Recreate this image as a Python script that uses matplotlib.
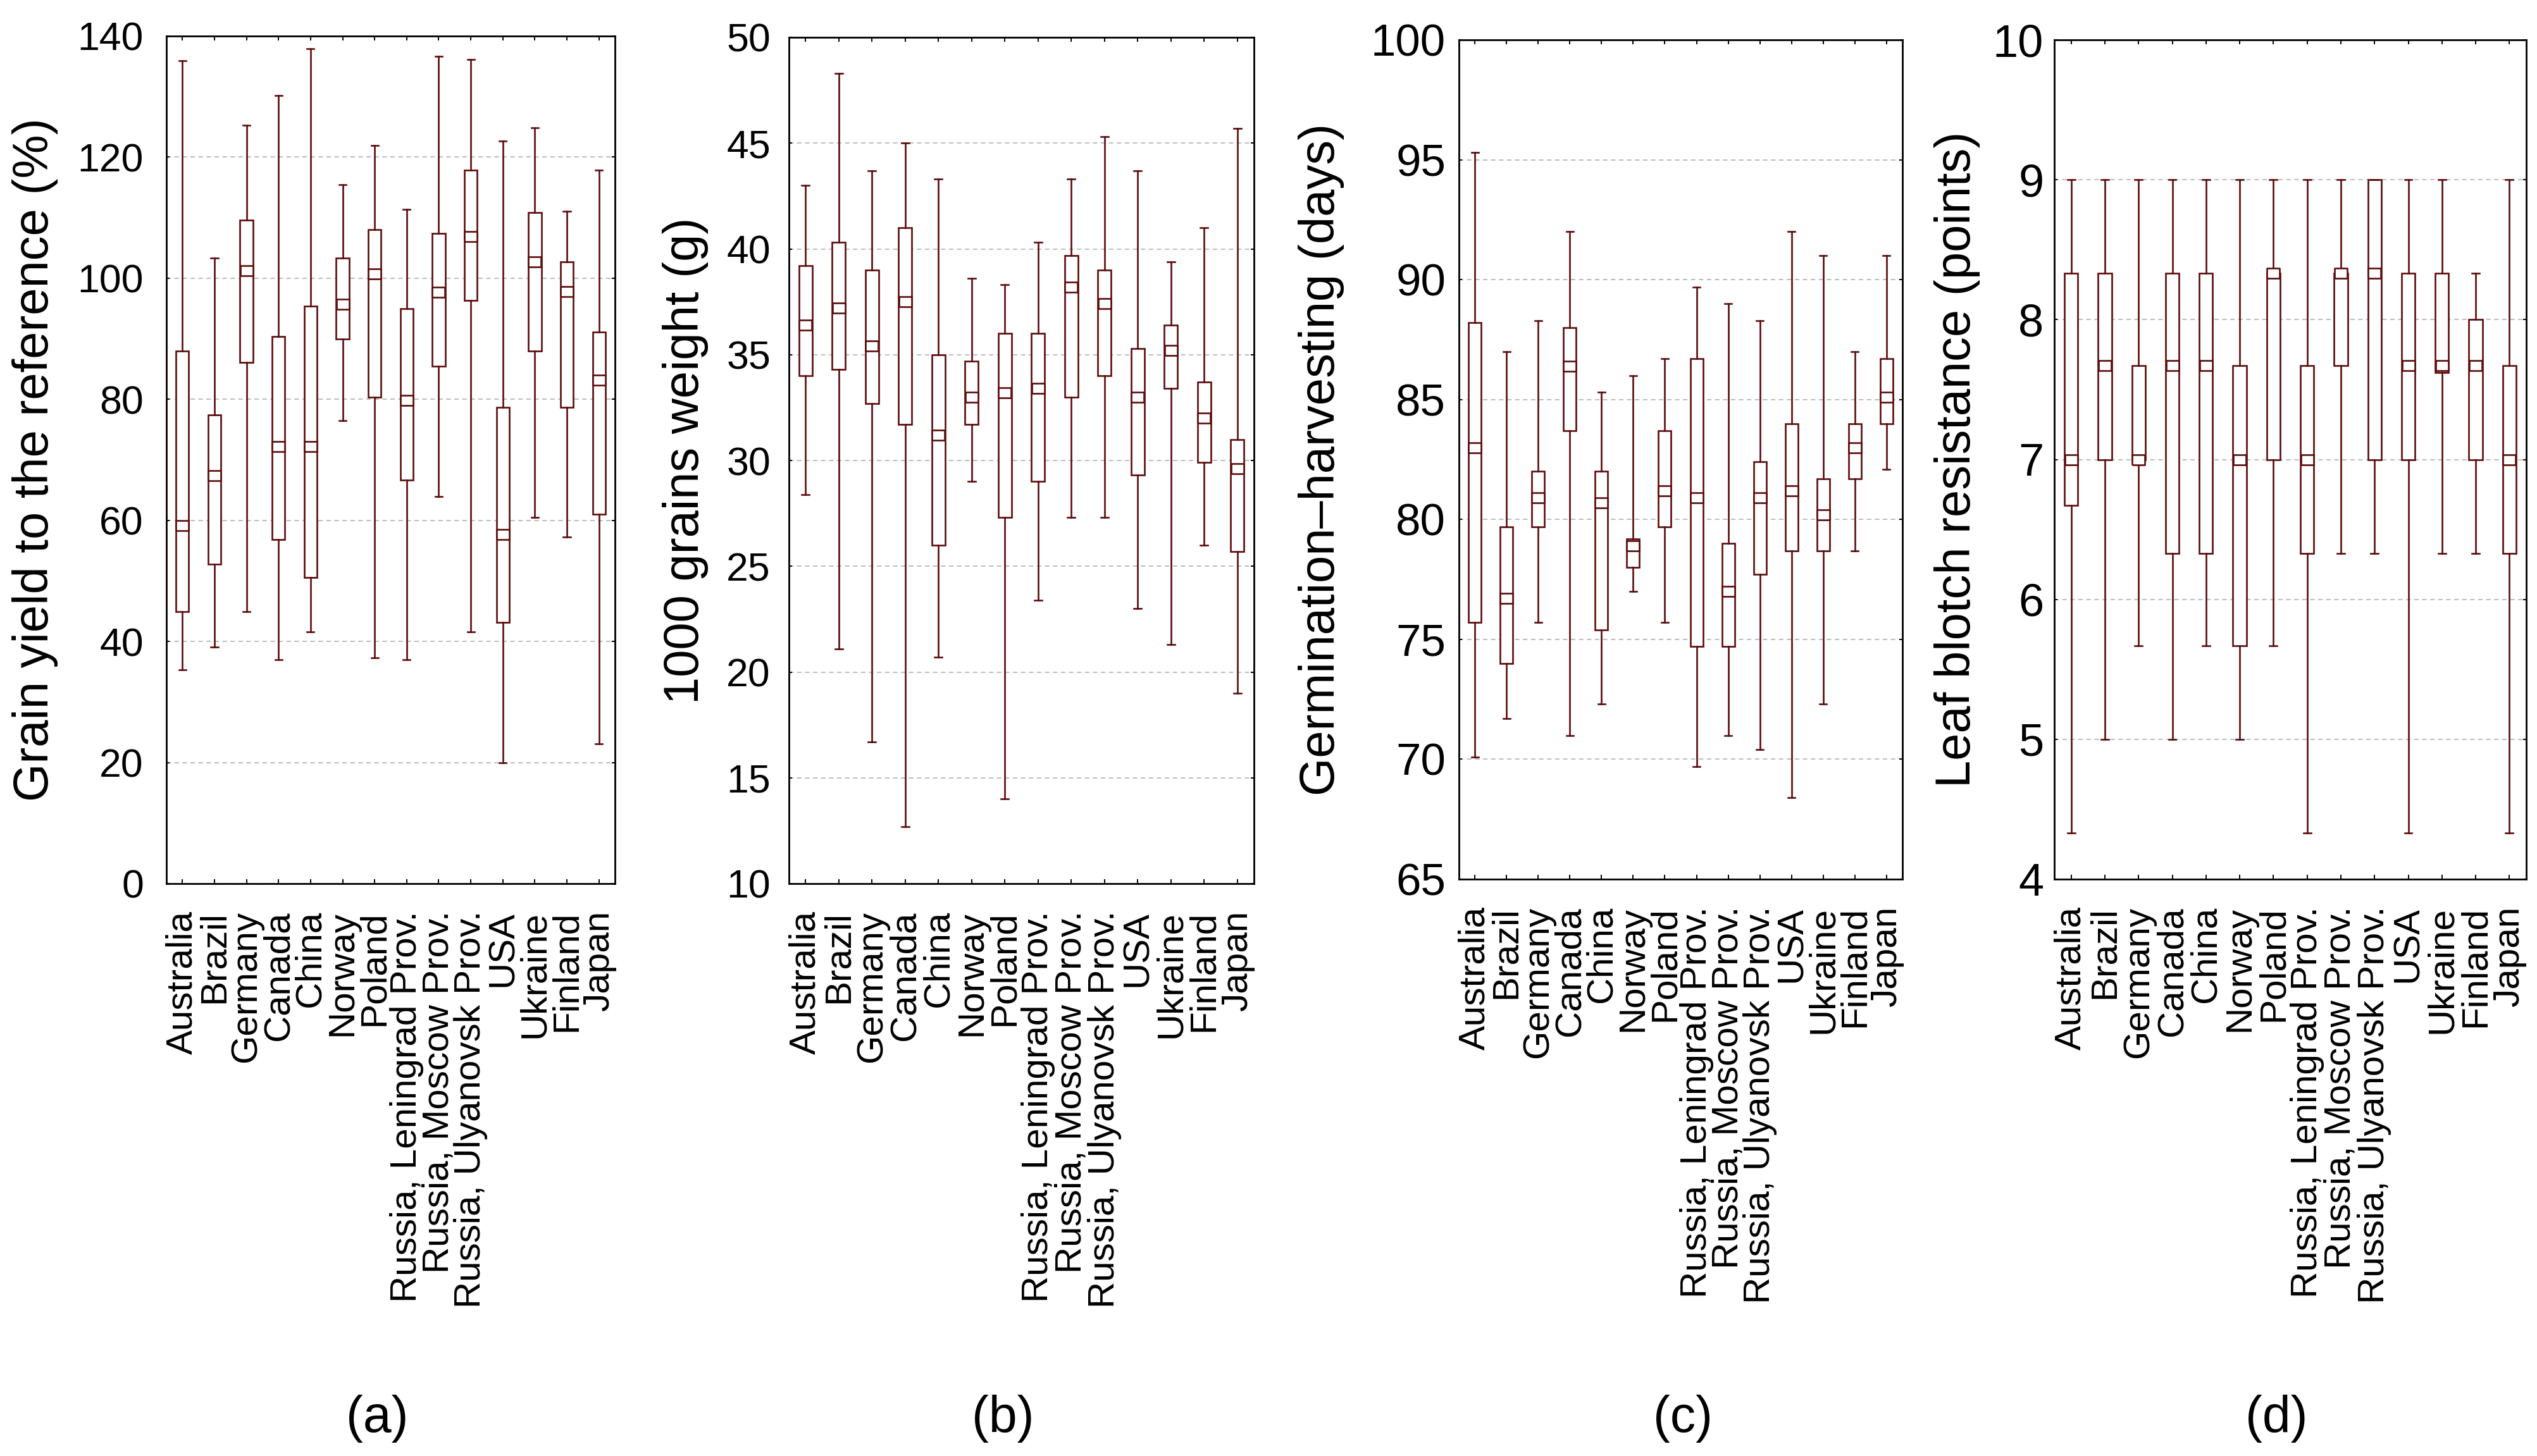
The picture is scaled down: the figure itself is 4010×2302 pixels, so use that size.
import matplotlib
matplotlib.use('Agg')
import matplotlib.pyplot as plt
import numpy as np

plt.rcParams['font.family'] = ['Liberation Sans', 'DejaVu Sans']

categories = ['Australia', 'Brazil', 'Germany', 'Canada', 'China', 'Norway', 'Poland',
              'Russia, Leningrad Prov.', 'Russia, Moscow Prov.', 'Russia, Ulyanovsk Prov.',
              'USA', 'Ukraine', 'Finland', 'Japan']

# (a) Grain yield to the reference (%)
a_hi = [135.9, 103.3, 125.3, 130.2, 137.9, 115.5, 121.9, 111.4, 136.7, 136.1, 122.7, 124.9, 111.1, 117.9]
a_q3 = [88.0, 77.4, 109.6, 90.4, 95.4, 103.3, 108.0, 95.0, 107.4, 117.9, 78.7, 110.8, 102.7, 91.1]
a_med = [59.1, 67.4, 101.2, 72.2, 72.2, 95.7, 100.7, 79.8, 97.7, 106.9, 57.7, 102.7, 97.8, 83.2]
a_q1 = [44.9, 52.8, 86.1, 56.8, 50.6, 90.0, 80.3, 66.7, 85.5, 96.3, 43.2, 88.0, 78.7, 61.0]
a_lo = [35.3, 39.1, 44.9, 37.0, 41.6, 76.5, 37.3, 37.0, 63.9, 41.6, 20.0, 60.5, 57.3, 23.1]

# (b) 1000 grains weight (g)
b_hi = [43.0, 48.3, 43.7, 45.0, 43.3, 38.6, 38.3, 40.3, 43.3, 45.3, 43.7, 39.4, 41.0, 45.7]
b_q3 = [39.2, 40.3, 39.0, 41.0, 35.0, 34.7, 36.0, 36.0, 39.7, 39.0, 35.3, 36.4, 33.7, 31.0]
b_med = [36.4, 37.2, 35.4, 37.5, 31.2, 33.0, 33.2, 33.4, 38.2, 37.4, 33.0, 35.2, 32.0, 29.6]
b_q1 = [34.0, 34.3, 32.7, 31.7, 26.0, 31.7, 27.3, 29.0, 33.0, 34.0, 29.3, 33.4, 29.9, 25.7]
b_lo = [28.4, 21.1, 16.7, 12.7, 20.7, 29.0, 14.0, 23.4, 27.3, 27.3, 23.0, 21.3, 26.0, 19.0]

# (c) Germination-harvesting (days)
c_hi = [95.3, 87.0, 88.3, 92.0, 85.3, 86.0, 86.7, 89.7, 89.0, 88.3, 92.0, 91.0, 87.0, 91.0]
c_q3 = [88.2, 79.7, 82.0, 88.0, 82.0, 79.2, 83.7, 86.7, 79.0, 82.4, 84.0, 81.7, 84.0, 86.7]
c_med = [83.0, 76.7, 80.9, 86.4, 80.7, 78.9, 81.2, 80.9, 77.0, 80.9, 81.2, 80.2, 83.0, 85.1]
c_q1 = [75.7, 74.0, 79.7, 83.7, 75.4, 78.0, 79.7, 74.7, 74.7, 77.7, 78.7, 78.7, 81.7, 84.0]
c_lo = [70.1, 71.7, 75.7, 71.0, 72.3, 77.0, 75.7, 69.7, 71.0, 70.4, 68.4, 72.3, 78.7, 82.1]

# (d) Leaf blotch resistance (points)
d_hi = [9.0, 9.0, 9.0, 9.0, 9.0, 9.0, 9.0, 9.0, 9.0, 9.0, 9.0, 9.0, 8.33, 9.0]
d_q3 = [8.33, 8.33, 7.67, 8.33, 8.33, 7.67, 8.33, 7.67, 8.33, 9.0, 8.33, 8.33, 8.0, 7.67]
d_med = [7.0, 7.67, 7.0, 7.67, 7.67, 7.0, 8.33, 7.0, 8.33, 8.33, 7.67, 7.67, 7.67, 7.0]
d_q1 = [6.67, 7.0, 7.0, 6.33, 6.33, 5.67, 7.0, 6.33, 7.67, 7.0, 7.0, 7.62, 7.0, 6.33]
d_lo = [4.33, 5.0, 5.67, 5.0, 5.67, 5.0, 5.67, 4.33, 6.33, 6.33, 4.33, 6.33, 6.33, 4.33]

ylabels = ['Grain yield to the reference (%)', '1000 grains weight (g)',
           'Germination\u2013harvesting (days)', 'Leaf blotch resistance (points)']
panel_tags = ['(a)', '(b)', '(c)', '(d)']

W, H = 4010, 2302
fig = plt.figure(figsize=(W / 100, H / 100), dpi=100)

col = '#5c0c0c'
lw = 1.9

panels = [
    dict(data=(a_lo, a_q1, a_med, a_q3, a_hi), px=(263, 972, 57, 1397), ylim=(0, 140), step=20,
         ysize=45, ypad=26, labx=-0.293, tagx=596),
    dict(data=(b_lo, b_q1, b_med, b_q3, b_hi), px=(1247, 1982, 59, 1397), ylim=(10, 50), step=5,
         ysize=45, ypad=21, labx=-0.223, tagx=1585),
    dict(data=(c_lo, c_q1, c_med, c_q3, c_hi), px=(2306, 3007, 63, 1390), ylim=(65, 100), step=5,
         ysize=51, ypad=15, labx=-0.31, tagx=2660),
    dict(data=(d_lo, d_q1, d_med, d_q3, d_hi), px=(3247, 3993, 63, 1390), ylim=(4, 10), step=1,
         ysize=52, ypad=12, labx=-0.206, tagx=3598),
]

rect_marker = [(-1, -0.8), (1, -0.8), (1, 0.8), (-1, 0.8), (-1, -0.8)]

for i, p in enumerate(panels):
    x0, x1, y0, y1 = p['px']
    ax = fig.add_axes([x0 / W, (H - y1) / H, (x1 - x0) / W, (y1 - y0) / H])
    lo, q1, med, q3, hi = p['data']
    stats = [dict(whislo=lo[k], q1=q1[k], med=med[k], q3=q3[k], whishi=hi[k])
             for k in range(len(categories))]
    pos = np.arange(len(categories))
    ax.bxp(stats, positions=pos, widths=0.4, capwidths=0.22, patch_artist=True,
           showfliers=False,
           boxprops=dict(facecolor='white', edgecolor=col, linewidth=lw),
           whiskerprops=dict(color=col, linewidth=lw),
           capprops=dict(color=col, linewidth=lw),
           medianprops=dict(linestyle='none', linewidth=0))
    ax.plot(pos, med, linestyle='none', marker=rect_marker, markersize=15,
            markerfacecolor='white', markeredgecolor=col, markeredgewidth=lw, zorder=4)

    ax.set_xlim(-0.5, len(categories) - 0.5)
    ylo, yhi = p['ylim']
    ax.set_ylim(ylo, yhi)
    ax.set_yticks(np.arange(ylo, yhi + p['step'] / 2, p['step']))
    ax.set_xticks(pos)
    ax.set_xticklabels(categories, rotation=90, fontsize=42, ha='center', va='top')
    ax.tick_params(axis='x', direction='in', length=5, width=1.4, top=True, bottom=True, pad=31)
    ax.tick_params(axis='y', direction='in', length=3.5, width=1.4, left=True, right=True,
                   labelsize=p['ysize'], pad=p['ypad'])
    ax.yaxis.grid(True, linestyle=(0, (4, 3)), color='#b8b8b8', linewidth=1.3)
    ax.set_axisbelow(True)
    for s in ax.spines.values():
        s.set_linewidth(2)
        s.set_color('black')

    ax.set_ylabel(ylabels[i], fontsize=56)
    ax.yaxis.set_label_coords(p['labx'], 0.5)
    ax.yaxis.label.set_va('center')

    fig.text(p['tagx'] / W, 1 - 2243 / H, panel_tags[i], fontsize=58, ha='center', va='center')

fig.savefig('out.png', dpi=100)
